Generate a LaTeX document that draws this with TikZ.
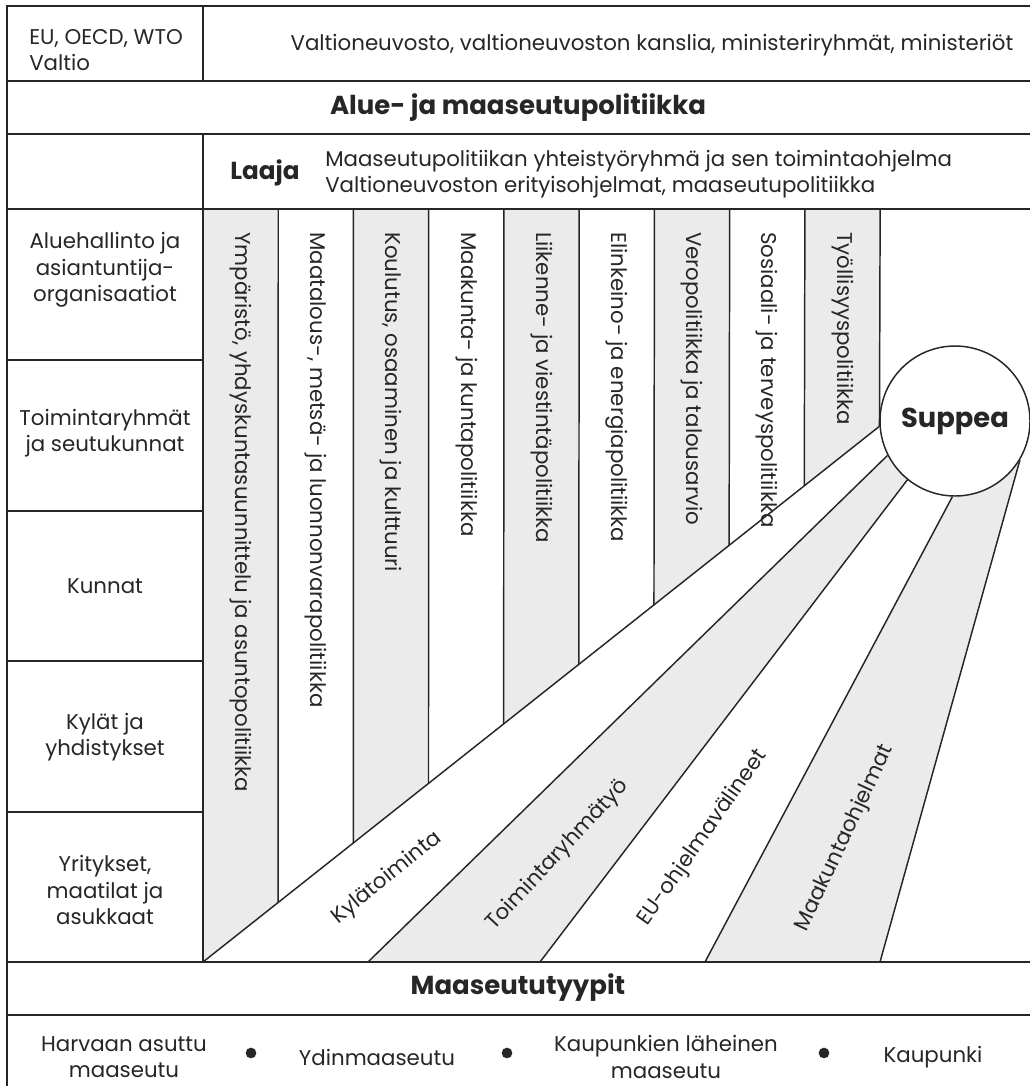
\documentclass[tikz,border=0pt]{standalone}
\usepackage{fontspec}
\setmainfont{Poppins}
\usetikzlibrary{calc}
\usetikzlibrary{backgrounds}

\definecolor{ink}{HTML}{262626}
\definecolor{band}{HTML}{EBEBEB}

\tikzset{
  rule/.style={draw=ink, line width=1.8pt},
  stripline/.style={draw=ink, line width=1.1pt},
  txt/.style={text=ink, font=\fontsize{16}{20}\selectfont, align=center, inner sep=0pt},
  head/.style={text=ink, font=\fontsize{19.5}{23}\selectfont\bfseries, inner sep=0pt},
  striplabel/.style={txt, rotate=-90, anchor=west},
  dot/.style={circle, fill=ink, inner sep=0pt, minimum size=8pt},
}

\begin{document}
\begin{tikzpicture}[x=0.75pt, y=-0.75pt]
\useasboundingbox (0,0) rectangle (1030,1086);

\draw[rule] (1040,6) -- (7,6) -- (7,1095);
\foreach \y in {81,134,209,962,1015} \draw[rule] (7,\y) -- (1040,\y);
\draw[rule] (203,6) -- (203,81);
\draw[rule] (203,134) -- (203,962);
\foreach \y in {360,511,661,812} \draw[rule] (7,\y) -- (203,\y);

\node[txt, anchor=west, align=left] (maailma) at (29,50) {EU, OECD, WTO\\Valtio};
\node[txt] (valtioneuvosto) at (652,45) {Valtioneuvosto, valtioneuvoston kanslia, ministeriryhmät, ministeriöt};
\node[head] (alue) at (518,108) {Alue- ja maaseutupolitiikka};
\node[head, font=\fontsize{18.5}{22}\selectfont\bfseries] (laaja) at (265,173) {Laaja};
\node[txt, anchor=west, align=left] (laajatxt) at (325,174) {Maaseutupolitiikan yhteistyöryhmä ja sen toimintaohjelma\\Valtioneuvoston erityisohjelmat, maaseutupolitiikka};

\node[txt] (taso1) at (105,270) {Aluehallinto ja\\asiantuntija-\\organisaatiot};
\node[txt] (taso2) at (105,433) {Toimintaryhmät\\ja seutukunnat};
\node[txt] (taso3) at (105,586) {Kunnat};
\node[txt] (taso4) at (105,737) {Kylät ja\\yhdistykset};
\node[txt] (taso5) at (105,890) {Yritykset,\\maatilat ja\\asukkaat};

\node[circle, draw=ink, line width=1.1pt, fill=white, minimum size=112.5pt, inner sep=0pt, head, font=\fontsize{20.5}{24}\selectfont\bfseries] (suppea) at (955,421) {Suppea};

\coordinate (a0) at (203,962);
\coordinate (a1) at (suppea.184.6);
\coordinate (b0) at (368,962);
\coordinate (c0) at (540,962);
\coordinate (d0) at (705,962);
\coordinate (e0) at (880,962);

\begin{scope}[on background layer]
\foreach \k in {0,2,4,6,8}
  \fill[band] ({203+75.24*\k},209) -- ($(a0)!{\k/9}!(a1)$) -- ($(a0)!{(\k+1)/9}!(a1)$) -- ({203+75.24*(\k+1)},209) -- cycle;
\fill[band] (suppea.207.6) -- (b0) -- (c0) -- (suppea.231.5) -- cycle;
\fill[band] (suppea.268.5) -- (d0) -- (e0) -- (suppea.329) -- cycle;
\end{scope}

\foreach \k in {1,...,9}
  \draw[stripline] ({203+75.24*\k},209) -- ($(a0)!{\k/9}!(a1)$);
\draw[stripline] (a0) -- (a1);
\draw[stripline] (b0) -- (suppea.207.6);
\draw[stripline] (c0) -- (suppea.231.5);
\draw[stripline] (d0) -- (suppea.268.5);
\draw[stripline] (e0) -- (suppea.329);

\foreach \k/\teksti in {0/{Ympäristö, yhdyskuntasuunnittelu ja asuntopolitiikka},
    1/{Maatalous-, metsä- ja luonnonvarapolitiikka},
    2/{Koulutus, osaaminen ja kulttuuri},
    3/{Maakunta- ja kuntapolitiikka},
    4/{Liikenne- ja viestintäpolitiikka},
    5/{Elinkeino- ja energiapolitiikka},
    6/{Veropolitiikka ja talousarvio},
    7/{Sosiaali- ja terveyspolitiikka},
    8/{Työllisyyspolitiikka}}
  \node[striplabel] (sektori\k) at ({203+75.24*(\k+0.5)},232) {\teksti};

\node[txt, rotate=39] (kyla) at (387,878) {Kylätoiminta};
\node[txt, rotate=47] (ryhma) at (558,855) {Toimintaryhmätyö};
\node[txt, rotate=55] (euohj) at (703,838) {EU-ohjelmavälineet};
\node[txt, rotate=65] (maakohj) at (845,838) {Maakuntaohjelmat};

\node[head] (tyypit) at (518,988) {Maaseututyypit};
\node[txt] (harvaan) at (124,1057) {Harvaan asuttu\\maaseutu};
\node[dot] (p1) at (251,1053) {};
\node[txt] (ydin) at (377,1057) {Ydinmaaseutu};
\node[dot] (p2) at (507,1053) {};
\node[txt] (lahi) at (666,1057) {Kaupunkien läheinen\\maaseutu};
\node[dot] (p3) at (824,1053) {};
\node[txt] (kaupunki) at (933,1057) {Kaupunki};
\end{tikzpicture}
\end{document}
